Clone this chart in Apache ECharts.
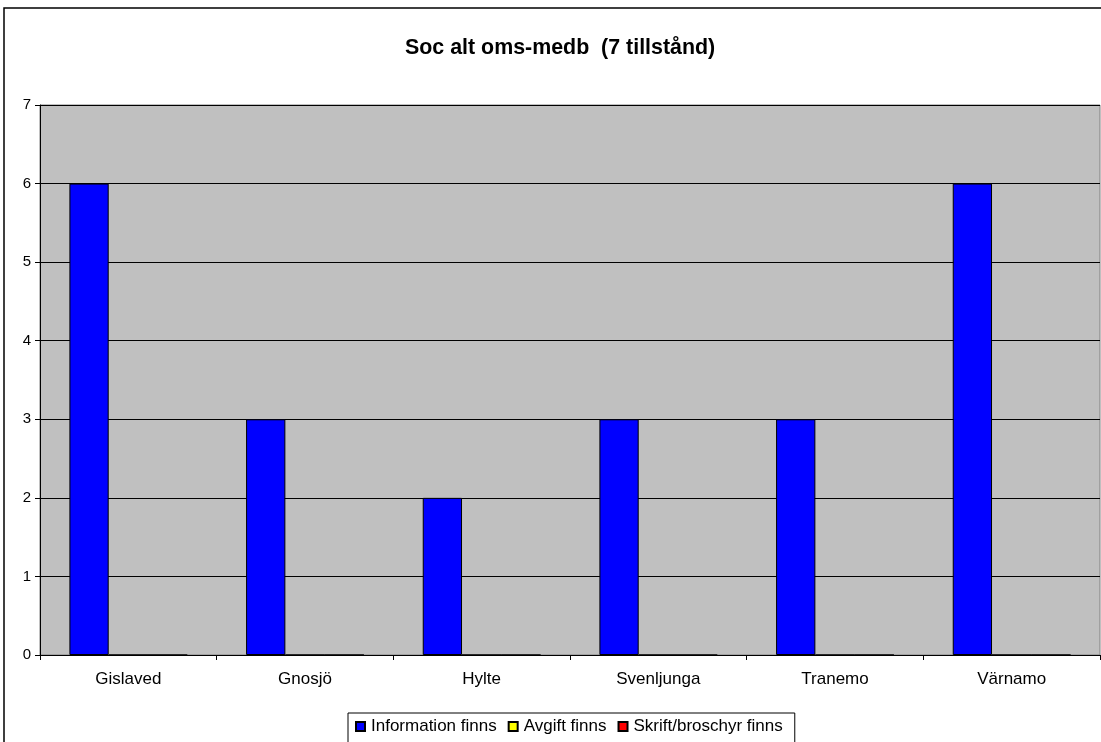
<!DOCTYPE html>
<html lang="sv">
<head>
    <meta charset="UTF-8">
    <title>Soc alt oms-medb</title>
    <style>
        html, body { margin: 0; padding: 0; background: #fff; }
        #main { width: 1101px; height: 742px; }
    </style>
</head>
<body>
<div id="main"></div>
<script src="https://cdn.jsdelivr.net/npm/echarts@6/dist/echarts.min.js"></script>
<script type="text/javascript">
    // data
    var kommuner = ['Gislaved', 'Gnosjö', 'Hylte', 'Svenljunga', 'Tranemo', 'Värnamo'];
    var informationFinns = [6, 3, 2, 3, 3, 6];
    var avgiftFinns = [0, 0, 0, 0, 0, 0];
    var skriftFinns = [0, 0, 0, 0, 0, 0];
    var seriesNames = ['Information finns', 'Avgift finns', 'Skrift/broschyr finns'];
    var yTicks = [0, 1, 2, 3, 4, 5, 6, 7];

    var myChart = echarts.init(document.getElementById('main'));

    function bar(name, data, color) {
        return {
            name: name,
            type: 'bar',
            data: data,
            barGap: '0%',
            barCategoryGap: '33.3%',
            itemStyle: {
                color: color,
                borderColor: '#000',
                borderWidth: 1
            }
        };
    }

    myChart.setOption({
        animation: false,
        textStyle: { fontFamily: 'Liberation Sans, Arial, sans-serif' },
        title: {
            text: 'Soc alt oms-medb  (7 tillstånd)',
            left: 400,
            top: 33,
            textStyle: { fontSize: 21.4, fontWeight: 'bold', color: '#000' }
        },
        graphic: [{
            type: 'rect',
            shape: { x: 4, y: 8, width: 1200, height: 800 },
            style: { fill: null, stroke: '#000', lineWidth: 1.5 },
            silent: true
        }],
        legend: {
            data: seriesNames,
            left: 348,
            top: 713,
            padding: [5, 12, 10, 7],
            itemGap: 11,
            itemWidth: 9,
            itemHeight: 9,
            icon: 'rect',
            borderColor: '#000',
            borderWidth: 1,
            textStyle: { fontSize: 17, color: '#000', padding: [0, 0, 0, 1] }
        },
        grid: {
            left: 40,
            top: 105,
            right: 1,
            bottom: 87,
            show: true,
            backgroundColor: '#c0c0c0',
            borderColor: '#808080',
            borderWidth: 1
        },
        xAxis: {
            type: 'category',
            data: kommuner,
            axisLine: { lineStyle: { color: '#000', width: 1 } },
            axisTick: { show: true, length: 5, lineStyle: { color: '#000' } },
            axisLabel: { fontSize: 17, color: '#000', margin: 16 }
        },
        yAxis: {
            type: 'value',
            min: yTicks[0],
            max: yTicks[yTicks.length - 1],
            interval: 1,
            axisLine: { show: true, lineStyle: { color: '#000', width: 1 } },
            axisTick: { show: true, length: 5, lineStyle: { color: '#000' } },
            axisLabel: { fontSize: 15, color: '#000', margin: 9 },
            splitLine: { show: true, lineStyle: { color: '#000', width: 1 } }
        },
        series: [
            bar(seriesNames[0], informationFinns, '#0000ff'),
            bar(seriesNames[1], avgiftFinns, '#ffff00'),
            bar(seriesNames[2], skriftFinns, '#ff0000')
        ]
    });
</script>
</body>
</html>
